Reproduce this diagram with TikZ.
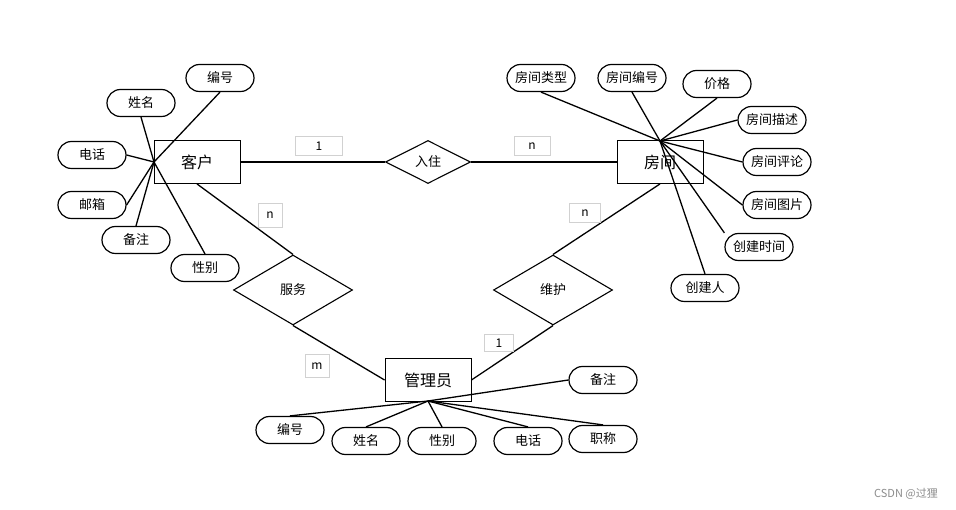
\documentclass[tikz,border=0pt]{standalone}
\usepackage{fontspec}
\setmainfont{Noto Sans CJK SC}
\usetikzlibrary{shapes.geometric}
\begin{document}
\begin{tikzpicture}[x=1pt,y=-1pt,
  ent/.style={draw,line width=0.9pt,fill=white,minimum width=86pt,minimum height=43pt,inner sep=0pt,font=\fontsize{16}{18}\selectfont},
  attr/.style={draw,line width=1.2pt,rounded corners=13.5pt,minimum width=68pt,minimum height=27pt,inner sep=0pt,font=\fontsize{13}{15}\selectfont},
  rel/.style={draw,line width=1.1pt,diamond,inner sep=0pt,aspect=1.7,font=\fontsize{13}{15}\selectfont},
  card/.style={draw=black!18,line width=0.8pt,fill=white,inner sep=0pt,font=\fontsize{12}{14}\selectfont},
  link/.style={line width=1.3pt}]
\useasboundingbox (0,0) rectangle (956,510);
\fill[white] (0,0) rectangle (956,510);

% entities
\node[ent] (kh) at (197,162) {客户};
\node[ent] (fj) at (660,162) {房间};
\node[ent] (gly) at (428,380) {管理员};

% relationships
\node[rel,minimum width=85pt,minimum height=43pt] (rz) at (428,162) {入住};
\node[rel,minimum width=119pt,minimum height=70pt] (fw) at (293,290) {服务};
\node[rel,minimum width=119pt,minimum height=70pt] (wh) at (553,290) {维护};

% hubs
\coordinate (hk) at (154,162);
\coordinate (hf) at (660,141);
\coordinate (hg) at (428,401);

% customer attributes
\node[attr] (k1) at (220,78) {编号};
\node[attr] (k2) at (141,103) {姓名};
\node[attr] (k3) at (92,155) {电话};
\node[attr] (k4) at (92,205) {邮箱};
\node[attr] (k5) at (136,240) {备注};
\node[attr] (k6) at (205,268) {性别};

% room attributes
\node[attr] (f1) at (541,78) {房间类型};
\node[attr] (f2) at (632,78) {房间编号};
\node[attr] (f3) at (717,84) {价格};
\node[attr] (f4) at (772,120) {房间描述};
\node[attr] (f5) at (777,162) {房间评论};
\node[attr] (f6) at (777,205) {房间图片};
\node[attr] (f7) at (759,247) {创建时间};
\node[attr] (f8) at (705,288) {创建人};

% admin attributes
\node[attr] (g1) at (290,430) {编号};
\node[attr] (g2) at (366,441) {姓名};
\node[attr] (g3) at (442,441) {性别};
\node[attr] (g4) at (528,441) {电话};
\node[attr] (g5) at (603,439) {职称};
\node[attr] (g6) at (603,380) {备注};

% relationship lines
\draw[link] (kh.east) -- (rz.west);
\draw[link] (rz.east) -- (fj.west);
\draw[link] (kh.south) -- (fw.north);
\draw[link] (fw.south) -- (gly.west);
\draw[link] (fj.south) -- (wh.north);
\draw[link] (wh.south) -- (gly.east);

% attribute lines
\draw[link] (k1.south) -- (hk);
\draw[link] (k2.south) -- (hk);
\draw[link] (k3.east) -- (hk);
\draw[link] (k4.east) -- (hk);
\draw[link] (k5.north) -- (hk);
\draw[link] (k6.north) -- (hk);

\draw[link] (f1.south) -- (hf);
\draw[link] (f2.south) -- (hf);
\draw[link] (f3.south) -- (hf);
\draw[link] (f4.west) -- (hf);
\draw[link] (f5.west) -- (hf);
\draw[link] (f6.west) -- (hf);
\draw[link] (f7.north west) -- (hf);
\draw[link] (f8.north) -- (hf);

\draw[link] (g1.north) -- (hg);
\draw[link] (g2.north) -- (hg);
\draw[link] (g3.north) -- (hg);
\draw[link] (g4.north) -- (hg);
\draw[link] (g5.north) -- (hg);
\draw[link] (g6.west) -- (hg);

% cardinalities
\node[card,minimum width=47pt,minimum height=19pt] (c1) at (319,146) {1};
\node[card,minimum width=36pt,minimum height=19pt] (c2) at (532,146) {n};
\node[card,minimum width=24pt,minimum height=24pt] (c3) at (270,215) {n};
\node[card,minimum width=31pt,minimum height=19pt] (c4) at (585,213) {n};
\node[card,minimum width=24pt,minimum height=23pt] (c5) at (317,366) {m};
\node[card,minimum width=29pt,minimum height=17pt] (c6) at (499,343) {1};

% watermark
\node[text=black!45,font=\fontsize{11}{13}\selectfont] (wm) at (906,494) {CSDN @过狸};
\end{tikzpicture}
\end{document}
